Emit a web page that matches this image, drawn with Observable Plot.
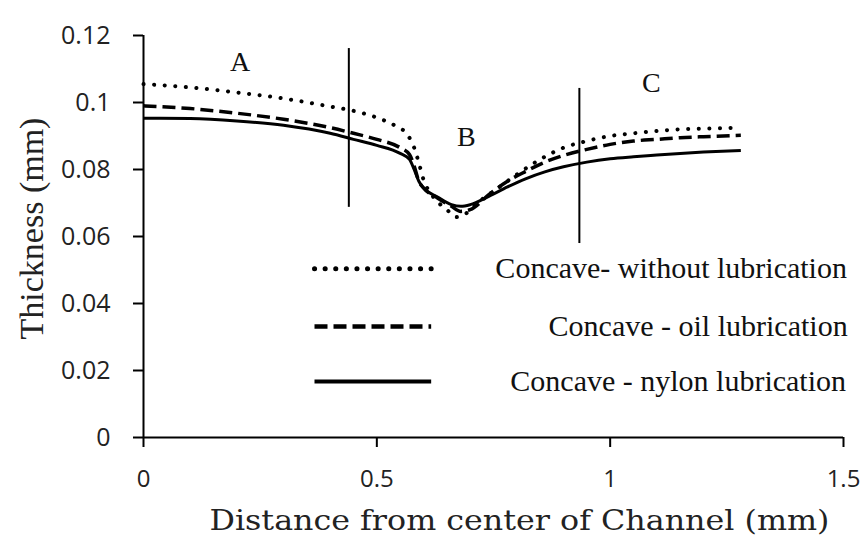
<!DOCTYPE html>
<html><head><meta charset="utf-8">
<script src="https://cdn.jsdelivr.net/npm/d3@7"></script>
<script src="https://cdn.jsdelivr.net/npm/@observablehq/plot@0.6"></script>
<style>body{margin:0;background:#fff} #chart svg{display:block;background:#fff}</style>
</head><body><div id="chart"></div>
<script>
// Series: Concave - without lubrication (dotted)
const xWithout = [0, 0.1, 0.2, 0.3, 0.4, 0.45, 0.5, 0.54, 0.565, 0.58, 0.59, 0.6, 0.62, 0.65, 0.67, 0.69, 0.72, 0.76, 0.8, 0.85, 0.9, 0.95, 1.0, 1.05, 1.1, 1.15, 1.2, 1.28];
const yWithout = [0.1055, 0.1045, 0.1030, 0.1012, 0.0988, 0.0975, 0.0955, 0.0930, 0.0905, 0.0865, 0.0820, 0.0770, 0.0720, 0.0680, 0.0658, 0.0668, 0.0705, 0.0745, 0.0785, 0.0830, 0.0865, 0.0885, 0.0900, 0.0908, 0.0915, 0.0920, 0.0922, 0.0925];
// Concave - oil lubrication (dashed)
const xOil = [0, 0.1, 0.2, 0.3, 0.4, 0.45, 0.5, 0.55, 0.57, 0.58, 0.59, 0.6, 0.63, 0.66, 0.68, 0.7, 0.74, 0.78, 0.82, 0.86, 0.9, 0.95, 1.0, 1.05, 1.1, 1.15, 1.2, 1.28];
const yOil = [0.0990, 0.0982, 0.0968, 0.0950, 0.0925, 0.0908, 0.0890, 0.0865, 0.0845, 0.0810, 0.0765, 0.0745, 0.0715, 0.0690, 0.0675, 0.0680, 0.0725, 0.0765, 0.0795, 0.0822, 0.0842, 0.0860, 0.0875, 0.0885, 0.0890, 0.0895, 0.0898, 0.0902];
// Concave - nylon lubrication (solid)
const xNylon = [0, 0.1, 0.2, 0.3, 0.4, 0.45, 0.5, 0.55, 0.57, 0.58, 0.59, 0.6, 0.63, 0.66, 0.68, 0.7, 0.74, 0.78, 0.82, 0.86, 0.9, 0.95, 1.0, 1.05, 1.1, 1.15, 1.2, 1.28];
const yNylon = [0.0953, 0.0952, 0.0945, 0.0932, 0.0908, 0.0890, 0.0872, 0.0848, 0.0830, 0.0800, 0.0765, 0.0745, 0.0718, 0.0695, 0.0690, 0.0695, 0.0720, 0.0748, 0.0773, 0.0793, 0.0808, 0.0822, 0.0832, 0.0838, 0.0843, 0.0848, 0.0852, 0.0857];

const seriesNames = ["Concave- without lubrication", "Concave - oil lubrication", "Concave - nylon lubrication"];
const xTicks = [0, 0.5, 1, 1.5];
const xTickLabels = ["0", "0.5", "1", "1.5"];
const yTicks = [0, 0.02, 0.04, 0.06, 0.08, 0.1, 0.12];
const yTickLabels = ["0", "0.02", "0.04", "0.06", "0.08", "0.1", "0.12"];
const regionNames = ["A", "B", "C"];
const regionX = [0.207, 0.692, 1.088];
const regionY = [0.112, 0.0896, 0.1057];
const dividerX = [0.44, 0.934];
const dividerLow = [0.0687, 0.0579];
const dividerHigh = [0.1161, 0.1042];
const xLabel = "Distance from center of Channel (mm)";
const yLabel = "Thickness (mm)";

// legend placement (data units)
const legendY = [0.0504, 0.0331, 0.0167];
const legendTextX = [0.754, 0.868, 0.786];
const legendLineX = [0.3675, 0.6175];

const styles = [
  {strokeDasharray: "0.1,10.5", strokeLinecap: "round", strokeWidth: 4},
  {strokeDasharray: "13,6", strokeLinecap: "butt", strokeWidth: 3.5},
  {strokeDasharray: null, strokeLinecap: "butt", strokeWidth: 3}
];
const xs = [xWithout, xOil, xNylon];
const ys = [yWithout, yOil, yNylon];

const marks = [];
seriesNames.forEach((name, s) => {
  const data = xs[s].map((x, i) => ({x, y: ys[s][i]}));
  const st = styles[s];
  marks.push(Plot.line(data, {x: "x", y: "y", stroke: "black", curve: "monotone-x",
    strokeWidth: st.strokeWidth, strokeDasharray: st.strokeDasharray, strokeLinecap: st.strokeLinecap}));
  marks.push(Plot.ruleY([legendY[s]], {x1: legendLineX[0], x2: legendLineX[1], stroke: "black",
    strokeWidth: st.strokeWidth + 1, strokeDasharray: st.strokeDasharray, strokeLinecap: st.strokeLinecap}));
  marks.push(Plot.text([name], {x: legendTextX[s], y: legendY[s], textAnchor: "start",
    fontFamily: "Liberation Serif", fontSize: 30, fill: "#111"}));
});

const dividers = dividerX.map((x, i) => ({x, y1: dividerLow[i], y2: dividerHigh[i]}));
const regions = regionNames.map((t, i) => ({t, x: regionX[i], y: regionY[i]}));

const chart = Plot.plot({
  width: 861, height: 538,
  marginLeft: 143, marginRight: 18, marginTop: 35, marginBottom: 101,
  x: {domain: [0, 1.5]},
  y: {domain: [0, 0.12]},
  style: {background: "white", color: "black"},
  marks: [
    Plot.axisX(xTicks, {tickFormat: d => xTickLabels[xTicks.indexOf(d)], tickSize: 10, tickPadding: 22,
      fontSize: 24, fontFamily: "Open Sans", strokeWidth: 2, label: null, fill: "#222"}),
    Plot.axisY(yTicks, {tickFormat: d => yTickLabels[yTicks.indexOf(d)], tickSize: 10, tickPadding: 23,
      fontSize: 25, fontFamily: "Open Sans", strokeWidth: 2, label: null, fill: "#222"}),
    Plot.ruleX([0], {y1: 0, y2: 0.12, strokeWidth: 2}),
    Plot.ruleY([0], {x1: 0, x2: 1.5, strokeWidth: 2}),
    Plot.ruleX(dividers, {x: "x", y1: "y1", y2: "y2", strokeWidth: 2}),
    Plot.text(regions, {x: "x", y: "y", text: "t", fontFamily: "Liberation Serif", fontSize: 28, fill: "#111"}),
    ...marks,
    Plot.text([xLabel], {frameAnchor: "bottom", textAnchor: "middle", lineAnchor: "middle", dx: 26, dy: 84,
      fontFamily: "DejaVu Serif", fontSize: 28, fill: "#222"}),
    Plot.text([yLabel], {frameAnchor: "left", textAnchor: "middle", lineAnchor: "middle", dx: -111, dy: -8, rotate: -90,
      fontFamily: "Liberation Serif", fontSize: 34, fill: "#222"})
  ]
});
d3.select(chart).selectAll("text").filter(function() { return this.textContent === xLabel; })
  .attr("textLength", 620).attr("lengthAdjust", "spacingAndGlyphs");
document.getElementById("chart").appendChild(chart);
</script>
</body></html>
